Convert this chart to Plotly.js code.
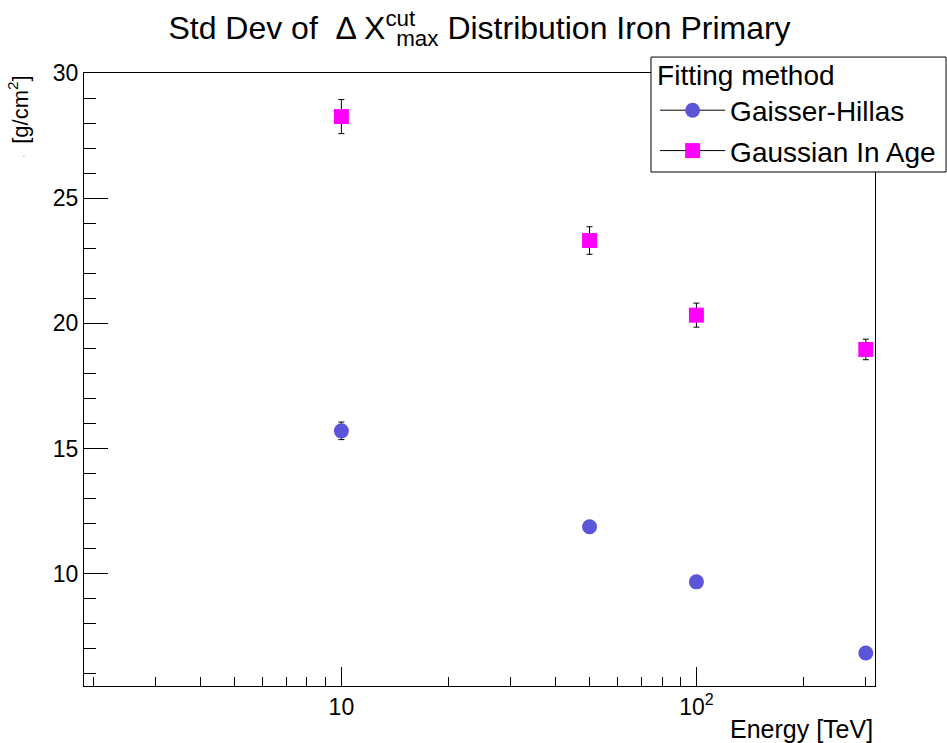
<!DOCTYPE html>
<html><head><meta charset="utf-8">
<script src="https://cdn.plot.ly/plotly-3.0.1.min.js"></script>
<style>html,body{margin:0;padding:0;background:#fff}</style>
</head><body><div id="chart" style="width:947px;height:743px"></div>
<script>
const energies = [10, 50, 100, 300];
const gaisserHillas = [15.71, 11.88, 9.68, 6.84];
const gaisserHillasErr = [0.35, 0.25, 0.25, 0.25];
const gaussianInAge = [28.26, 23.31, 20.33, 18.96];
const gaussianInAgeErr = [0.68, 0.55, 0.48, 0.41];
const seriesNames = ['Gaisser-Hillas', 'Gaussian In Age'];
const xMajorTicks = [10, 100];
const xTickText = ['10', '10<sup>2</sup>'];
const xMinorTicks = [2,3,4,5,6,7,8,9,20,30,40,50,60,70,80,90,200,300];
const yMajorTicks = [10, 15, 20, 25, 30];

const FONT = 'Liberation Sans, Arial, Helvetica, sans-serif';
const blue = '#5a55d9';
const magenta = '#ff00ff';

const data = [
  {x: energies, y: gaisserHillas, type: 'scatter', mode: 'markers', showlegend: false,
   marker: {symbol: 'circle', size: 15, color: blue},
   error_y: {type: 'data', array: gaisserHillasErr, visible: true, color: '#000', thickness: 1, width: 3}},
  {x: energies, y: gaussianInAge, type: 'scatter', mode: 'markers', showlegend: false,
   marker: {symbol: 'square', size: 15, color: magenta},
   error_y: {type: 'data', array: gaussianInAgeErr, visible: true, color: '#000', thickness: 1, width: 3}},
  {x: [null], y: [null], type: 'scatter', mode: 'lines+markers', name: seriesNames[0], legendgroup: 'a',
   line: {color: '#000', width: 1}, marker: {symbol: 'circle', size: 15, color: blue}},
  {x: [null], y: [null], type: 'scatter', mode: 'lines+markers', name: seriesNames[1], legendgroup: 'b',
   line: {color: '#000', width: 1}, marker: {symbol: 'square', size: 15, color: magenta}}
];

const layout = {
  width: 947, height: 743,
  margin: {l: 84, r: 72, t: 73, b: 57, autoexpand: false},
  paper_bgcolor: '#fff', plot_bgcolor: '#fff',
  font: {family: FONT, color: '#000'},
  title: {text: 'Std Dev of  \u0394 X<sup>cut</sup><span style="letter-spacing:-28px"> </span><sub>max</sub> Distribution Iron Primary',
          font: {size: 32, family: FONT, color: '#000'}, x: 0.5, xref: 'paper', xanchor: 'center',
          y: 0.962, yref: 'container', yanchor: 'middle'},
  xaxis: {type: 'log', range: [0.275, 2.503], showgrid: false, zeroline: false,
          showline: true, mirror: true, linecolor: '#000', linewidth: 1,
          tickmode: 'array', tickvals: xMajorTicks, ticktext: xTickText,
          ticks: 'inside', ticklen: 19, tickcolor: '#000', tickwidth: 1,
          tickfont: {size: 23, family: FONT, color: '#000'},
          minor: {tickmode: 'array', tickvals: xMinorTicks, ticks: 'inside', ticklen: 9.5, tickcolor: '#000', tickwidth: 1, showgrid: false}},
  yaxis: {range: [5.52, 30], showgrid: false, zeroline: false,
          showline: true, mirror: true, linecolor: '#000', linewidth: 1,
          tickmode: 'array', tickvals: yMajorTicks,
          ticks: 'inside', ticklen: 24, tickcolor: '#000', tickwidth: 1,
          tickfont: {size: 23, family: FONT, color: '#000'},
          minor: {dtick: 1, ticks: 'inside', ticklen: 12, tickcolor: '#000', tickwidth: 1, showgrid: false}},
  legend: {x: 0.722, xanchor: 'left', y: 1.039, yanchor: 'top', bgcolor: 'rgba(0,0,0,0)',
           borderwidth: 0, traceorder: 'grouped', tracegroupgap: 1,
           itemwidth: 65,
           font: {size: 28, family: FONT, color: '#000'},
           title: {text: 'Fitting method', font: {size: 28, family: FONT, color: '#000'}}},
  shapes: [
    {type: 'rect', xref: 'paper', yref: 'paper', x0: 0.7168, x1: 1.0898, y0: 0.8385, y1: 1.026,
     fillcolor: '#fff', line: {color: '#000', width: 1}, layer: 'above'}
  ],
  annotations: [
    {text: 'Energy [TeV]', xref: 'paper', yref: 'paper', x: 1, y: -0.07, xanchor: 'right', yanchor: 'middle',
     showarrow: false, font: {size: 25, family: FONT, color: '#000'}},
    {text: '<span style="font-size:7px;color:#999">\'</span>  [g/cm<sup>2</sup>]', xref: 'paper', yref: 'paper',
     x: -0.083, y: 1, xanchor: 'center', yanchor: 'top', textangle: -90,
     showarrow: false, font: {size: 22, family: FONT, color: '#000'}}
  ]
};

Plotly.newPlot('chart', data, layout, {displayModeBar: false, staticPlot: true});
</script>
</body></html>
